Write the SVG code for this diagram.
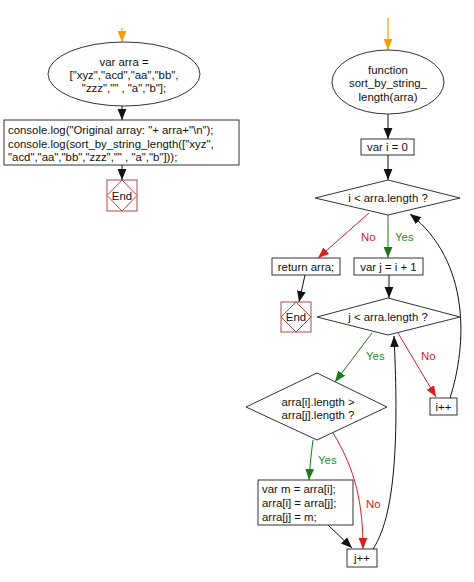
<svg xmlns="http://www.w3.org/2000/svg" width="474" height="582" viewBox="0 0 474 582">
<defs>
<style>
text{font-family:"Liberation Sans",Arial,sans-serif;font-size:11.4px;fill:#111}
.c{text-anchor:middle}
.n{fill:#fff;stroke:#333;stroke-width:1}
.e{fill:#fff;stroke:#b04848;stroke-width:1}
.k{fill:none;stroke:#111;stroke-width:1}
.g{fill:none;stroke:#1a7a1a;stroke-width:1}
.r{fill:none;stroke:#d42020;stroke-width:1}
.o{fill:none;stroke:#f5a000;stroke-width:1.2}
.gl{fill:#2e8b2e}
.rl{fill:#d42020}
</style>
<marker id="ak" viewBox="0 0 10 10" refX="10" refY="5" markerWidth="11" markerHeight="11" markerUnits="userSpaceOnUse" orient="auto"><path d="M0,1 L10,5 L0,9 z" fill="#111"/></marker>
<marker id="ag" viewBox="0 0 10 10" refX="10" refY="5" markerWidth="11" markerHeight="11" markerUnits="userSpaceOnUse" orient="auto"><path d="M0,1 L10,5 L0,9 z" fill="#1a7a1a"/></marker>
<marker id="ar" viewBox="0 0 10 10" refX="10" refY="5" markerWidth="11" markerHeight="11" markerUnits="userSpaceOnUse" orient="auto"><path d="M0,1 L10,5 L0,9 z" fill="#d42020"/></marker>
<marker id="ao" viewBox="0 0 10 10" refX="10" refY="5" markerWidth="11" markerHeight="11" markerUnits="userSpaceOnUse" orient="auto"><path d="M0,1 L10,5 L0,9 z" fill="#f5a000"/></marker>
</defs>
<rect width="474" height="582" fill="#fff"/>

<g id="connectors">
<path class="o" d="M122,28 L122,42" marker-end="url(#ao)"/>
<path class="k" d="M122,106 L122,120" marker-end="url(#ak)"/>
<path class="k" d="M122,165 L122,180" marker-end="url(#ak)"/>
<path class="o" d="M388,18 L388,50" marker-end="url(#ao)"/>
<path class="k" d="M388,113 L388,139" marker-end="url(#ak)"/>
<path class="k" d="M388,155 L388,180" marker-end="url(#ak)"/>
<path class="r" d="M369,213 L318,258" marker-end="url(#ar)"/>
<text class="rl" x="361" y="241">No</text>
<path class="g" d="M388,215 L388,258" marker-end="url(#ag)"/>
<text class="gl" x="395" y="241">Yes</text>
<path class="k" d="M305,275 L299,302" marker-end="url(#ak)"/>
<path class="k" d="M389,275 L389,298" marker-end="url(#ak)"/>
<path class="g" d="M372,333 L335,382" marker-end="url(#ag)"/>
<text class="gl" x="366" y="360">Yes</text>
<path class="r" d="M398,333 L436,397" marker-end="url(#ar)"/>
<text class="rl" x="421" y="360">No</text>
<path class="k" d="M450,398 C467,345 471,262 410,214" marker-end="url(#ak)"/>
<path class="g" d="M313,440 C311,455 310,465 309,480" marker-end="url(#ag)"/>
<text class="gl" x="318" y="464">Yes</text>
<path class="r" d="M333,433 C356,470 363,505 363,549" marker-end="url(#ar)"/>
<text class="rl" x="366" y="508">No</text>
<path class="k" d="M328,525 L352,548" marker-end="url(#ak)"/>
<path class="k" d="M373,549 C398,512 398,420 394,336" marker-end="url(#ak)"/>
</g>

<g id="start-main">
<ellipse class="n" cx="124" cy="74" rx="76" ry="32"/>
<text class="c" x="124" y="66">var arra =</text>
<text class="c" x="124" y="79">["xyz","acd","aa","bb",</text>
<text class="c" x="124" y="92">"zzz","" , "a","b"];</text>
</g>
<g id="console">
<rect class="n" x="4" y="120" width="235" height="45"/>
<text x="8" y="134">console.log("Original array: "+ arra+"\n");</text>
<text x="8" y="148">console.log(sort_by_string_length(["xyz",</text>
<text x="8" y="161">"acd","aa","bb","zzz","" , "a","b"]));</text>
</g>
<g id="end1">
<rect class="e" x="107" y="180" width="30" height="31"/>
<path class="e" d="M122,180 L137,195.5 L122,211 L107,195.5 z"/>
<text class="c" x="122" y="199.5">End</text>
</g>

<g id="start-func">
<ellipse class="n" cx="388" cy="82" rx="56" ry="32"/>
<text class="c" x="388" y="74">function</text>
<text class="c" x="388" y="87">sort_by_string_</text>
<text class="c" x="388" y="101">length(arra)</text>
</g>
<g id="init-i">
<rect class="n" x="361" y="139" width="53" height="16"/>
<text class="c" x="387.5" y="151">var i = 0</text>
</g>
<g id="cond-i">
<path class="n" d="M388,180 L460,198 L388,215 L315,198 z"/>
<text class="c" x="388" y="202">i &lt; arra.length ?</text>
</g>
<g id="return">
<rect class="n" x="272" y="258" width="68" height="17"/>
<text class="c" x="306" y="270.5">return arra;</text>
</g>
<g id="init-j">
<rect class="n" x="354" y="258" width="69" height="17"/>
<text class="c" x="388.5" y="270.5">var j = i + 1</text>
</g>
<g id="end2">
<rect class="e" x="281" y="302" width="30" height="30"/>
<path class="e" d="M296,302 L311,317 L296,332 L281,317 z"/>
<text class="c" x="296" y="321">End</text>
</g>
<g id="cond-j">
<path class="n" d="M388,298 L460,317 L388,335 L317,317 z"/>
<text class="c" x="388" y="321">j &lt; arra.length ?</text>
</g>
<g id="inc-i">
<rect class="n" x="430" y="398" width="27" height="17"/>
<text class="c" x="443.5" y="410.5">i++</text>
</g>
<g id="cond-len">
<path class="n" d="M317,373 L387,407 L317,440 L246,407 z"/>
<text class="c" x="318" y="406">arra[i].length &gt;</text>
<text class="c" x="318" y="419">arra[j].length ?</text>
</g>
<g id="swap">
<rect class="n" x="258" y="480" width="95" height="45"/>
<text x="262" y="493">var m = arra[i];</text>
<text x="262" y="507">arra[i] = arra[j];</text>
<text x="262" y="521">arra[j] = m;</text>
</g>
<g id="inc-j">
<rect class="n" x="347" y="549" width="30" height="18"/>
<text class="c" x="362" y="562">j++</text>
</g>
</svg>
